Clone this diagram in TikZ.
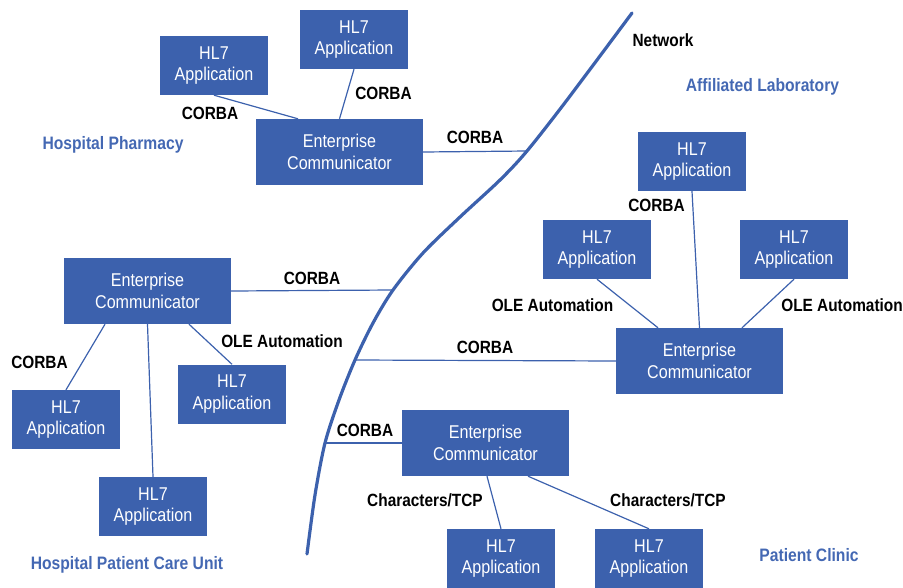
\documentclass[tikz,border=0pt]{standalone}
\usepackage{fontspec}
\setmainfont{Liberation Sans}[FakeStretch=0.87]
\usetikzlibrary{calc}
\definecolor{netblue}{HTML}{3C61AD}
\definecolor{regionblue}{HTML}{4468B3}
\tikzset{
  app/.style={fill=netblue, text=white, minimum width=108pt, minimum height=59pt,
    inner sep=0pt, align=center, font=\fontsize{18.5}{21.5}\selectfont},
  comm/.style={app, minimum width=167pt, minimum height=66pt},
  proto/.style={text=black, font=\bfseries\fontsize{17.7}{20}\selectfont,
    inner sep=0pt, text height=12.7pt, text depth=0pt},
  region/.style={text=regionblue, font=\bfseries\fontsize{18}{20}\selectfont,
    inner sep=0pt, text height=13pt, text depth=0pt},
  link/.style={draw=netblue, line width=1.2pt},
  network/.style={draw=netblue, line width=3.2pt, line cap=round},
}
\begin{document}
\begin{tikzpicture}[x=1pt,y=-1pt]
\useasboundingbox (0,0) rectangle (903,587);

% ---- network backbone ----
\coordinate (ntop) at (632,13);
\coordinate (n1)   at (527,151);
\coordinate (n2)   at (393,290);
\coordinate (n3)   at (355,360);
\coordinate (n4)   at (325,443);
\coordinate (nbot) at (307,554);
\draw[network] plot[smooth, tension=0.5] coordinates {(ntop) (567,100) (n1) (500,180)
  (460,217) (423,253) (n2) (373,323) (n3) (339,400) (n4) (315,495) (nbot)};

% ---- Hospital Pharmacy ----
\node[app]  (pa1) at (214,65.5) {HL7\\Application};
\node[app]  (pa2) at (354,39.5) {HL7\\Application};
\node[comm] (pec) at (339.5,152) {Enterprise\\Communicator};
\draw[link] (pa1.south) -- ([xshift=-41.5pt]pec.north);
\draw[link] (pa2.south) -- (pec.north);
\draw[link] (pec.east) -- (n1);
\node[proto] (lp1) at (210,113) {CORBA};
\node[proto] (lp2) at (383.5,93) {CORBA};
\node[proto] (lp3) at (475,137) {CORBA};
\node[region] (rph) at (113,143) {Hospital Pharmacy};

% ---- Affiliated Laboratory ----
\node[proto]  (lnet) at (663,40) {Network};
\node[region] (rlab) at (762.5,85) {Affiliated Laboratory};
\node[app]  (la1) at (692,161.5) {HL7\\Application};
\node[app]  (la2) at (597,249.5) {HL7\\Application};
\node[app]  (la3) at (794,249.5) {HL7\\Application};
\node[comm] (lec) at (699.5,361) {Enterprise\\Communicator};
\draw[link] (la1.south) -- (lec.north);
\draw[link] (la2.south) -- ([xshift=-41.5pt]lec.north);
\draw[link] (la3.south) -- ([xshift=42.5pt]lec.north);
\draw[link] (lec.west) -- (n3);
\node[proto] (ll1) at (656.5,205) {CORBA};
\node[proto] (ll2) at (552.5,305) {OLE Automation};
\node[proto] (ll3) at (842,305) {OLE Automation};
\node[proto] (ll4) at (485,347) {CORBA};

% ---- Hospital Patient Care Unit ----
\node[comm] (cec) at (147.5,291) {Enterprise\\Communicator};
\node[app]  (ca1) at (66,419.5) {HL7\\Application};
\node[app]  (ca2) at (232,394) {HL7\\Application};
\node[app]  (ca3) at (153,506.5) {HL7\\Application};
\draw[link] (cec.east) -- (n2);
\draw[link] ([xshift=-42.5pt]cec.south) -- (ca1.north);
\draw[link] ([xshift=41.5pt]cec.south) -- (ca2.north);
\draw[link] (cec.south) -- (ca3.north);
\node[proto] (lc1) at (312,278) {CORBA};
\node[proto] (lc2) at (39.5,362) {CORBA};
\node[proto] (lc3) at (282,341) {OLE Automation};
\node[region] (rcu) at (127,563) {Hospital Patient Care Unit};

% ---- Patient Clinic ----
\node[comm] (kec) at (485.5,443) {Enterprise\\Communicator};
\node[app]  (ka1) at (501,558.5) {HL7\\Application};
\node[app]  (ka2) at (649,558.5) {HL7\\Application};
\draw[link] (kec.west) -- (n4);
\draw[link] ([xshift=1.5pt]kec.south) -- (ka1.north);
\draw[link] ([xshift=42.5pt]kec.south) -- (ka2.north);
\node[proto] (lk1) at (365,430) {CORBA};
\node[proto] (lk2) at (425,500) {Characters/TCP};
\node[proto] (lk3) at (668,500) {Characters/TCP};
\node[region] (rcl) at (809,555) {Patient Clinic};
\end{tikzpicture}
\end{document}
